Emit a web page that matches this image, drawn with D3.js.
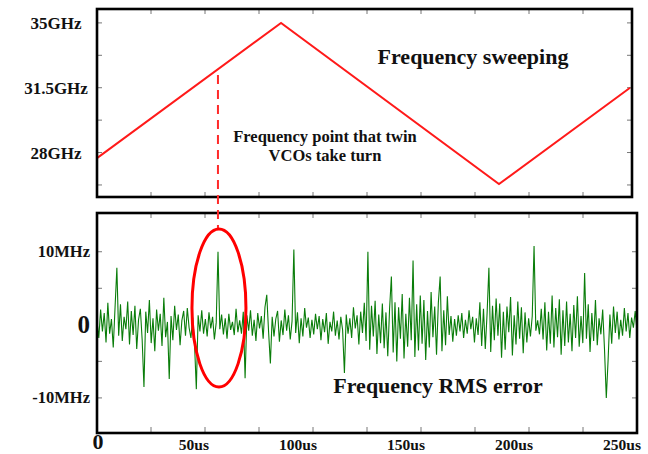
<!DOCTYPE html>
<html>

<head>
    <title>Frequency sweeping and RMS error</title>
    <script src="https://cdnjs.cloudflare.com/ajax/libs/d3/7.8.5/d3.min.js"></script>
    <style>
        body { margin: 0; background: #fff; }
        text { font-family: "Liberation Serif", "Times New Roman", serif; font-weight: bold; fill: #111; }
        .frame { fill: none; stroke: #000; stroke-width: 2.6; }
        .tick { stroke: #777; stroke-width: 1; }
    </style>
</head>

<body>
    <div id="chart"></div>
    <script>
        // sweep corner points (us, GHz)
        const sweepTimes = [0, 85.2, 186.1, 246.8];
        const sweepFreqs = [27.7, 35, 26.3, 31.5];
        const turnTime = 56; // where the twin VCOs swap

        // error samples in MHz, evenly spaced over 0..250us
        const errorValues = [
            0.5,-1.8,2.1,-0.9,1.6,-2.4,3.0,-1.2,0.8,-3.1,2.4,7.8,-1.5,2.8,-2.2,1.1,-0.6,3.2,-2.7,1.9,
            -1.4,2.6,-3.3,0.7,2.2,-2.0,-8.5,1.8,-1.1,3.4,-2.5,0.9,-3.6,2.1,-0.8,1.5,-2.9,3.7,-1.7,0.4,
            -7.4,1.2,-2.1,2.6,-0.7,1.4,-2.8,0.6,1.9,-1.5,2.3,-0.4,-1.8,1.0,-2.6,-8.8,1.3,-0.9,2.0,-1.2,
            0.8,-1.6,1.7,-0.5,1.1,-2.0,0.3,10.0,-0.6,1.4,-1.3,0.9,-1.9,1.5,-0.7,0.4,-1.4,2.2,-1.0,0.6,
            -1.2,1.8,-7.3,1.3,-0.8,2.0,-1.5,0.7,-2.2,1.6,-0.5,1.2,-1.9,2.4,4.1,-0.9,-5.3,1.1,-1.6,0.8,
            1.9,-2.3,0.6,-1.4,2.1,-0.8,1.3,-2.0,0.5,10.3,-1.1,1.7,-2.5,0.9,-1.6,2.3,-0.4,1.0,-1.8,0.7,
            -1.3,1.5,-0.6,1.2,-2.1,0.8,-1.0,1.6,-2.6,0.4,-0.9,1.8,-1.5,0.6,-2.0,1.1,-0.7,-6.6,1.4,-1.2,
            0.9,-1.8,2.4,-0.5,1.3,-2.7,1.8,-1.1,3.0,-2.2,10.0,-3.4,2.6,-1.6,3.3,-4.0,1.4,-2.5,2.9,-3.2,
            1.7,-4.3,2.2,6.6,-3.8,3.1,-5.0,2.4,-1.9,4.2,-4.6,1.5,-3.0,3.7,-2.1,8.8,-4.4,2.8,-3.5,4.0,
            -2.6,3.4,-4.8,1.9,-3.1,4.5,-1.7,2.5,-4.1,3.0,6.6,-3.6,2.0,-2.8,3.9,-1.4,1.2,-2.3,0.8,-1.5,
            1.3,-0.9,1.6,-1.8,0.7,-1.2,2.0,-0.6,1.1,-2.4,0.9,-1.4,3.1,-2.9,2.2,-3.3,1.6,7.8,-3.7,2.6,
            -2.1,3.6,-1.5,2.9,-4.5,1.8,-3.4,2.5,-1.0,3.8,-4.2,1.3,-2.7,3.2,-1.9,2.4,-3.9,1.7,-2.4,0.9,
            -1.6,1.2,10.8,-0.8,0.6,-1.3,2.2,-2.0,3.1,-3.5,1.8,-2.6,4.0,-3.1,2.3,-1.7,3.5,-4.1,2.0,-2.9,
            3.2,-2.4,1.5,-3.6,2.7,-1.8,3.9,-3.0,1.2,-2.5,7.1,-1.9,2.8,-3.7,1.6,-2.2,3.4,-2.8,0.9,-1.3,
            2.1,-3.3,-10.0,-4.8,1.4,-2.6,2.5,-1.1,1.8,-2.0,0.7,-1.5,2.3,-0.9,1.6,-1.8,1.0,-0.4,1.9,-0.8
        ];

        const freqTicks = [35, 31.5, 28];
        const freqTickLabels = ["35GHz", "31.5GHz", "28GHz"];
        const freqMinor = [33.25, 29.75, 26.25];
        const errTicks = [10, 0, -10];
        const errTickLabels = ["10MHz", "0", "-10MHz"];
        const errMinor = [10, 5, -5, -10];
        const timeTicks = [0, 50, 100, 150, 200, 250];
        const timeTickLabels = ["0", "50us", "100us", "150us", "200us", "250us"];
        const timeMinor = [25, 50, 75, 100, 125, 150, 175, 200, 225];

        const svg = d3.select("#chart")
            .append("svg")
            .attr("width", 648)
            .attr("height", 454);

        const x = d3.scaleLinear().domain([0, 250]).range([97, 637]);
        const yTop = d3.scaleLinear().domain([25.6, 35.75]).range([197, 9]);
        const yBot = d3.scaleLinear().domain([-14.8, 15.3]).range([433, 213]);

        const topRight = 632;

        // ---- top panel: frequency sweep ----
        const topG = svg.append("g");

        topG.selectAll(".ty").data(freqMinor.concat(freqTicks)).enter()
            .append("g").each(function (v) {
                const g = d3.select(this);
                g.append("line").attr("class", "tick")
                    .attr("x1", x(0)).attr("x2", x(0) + 5)
                    .attr("y1", yTop(v)).attr("y2", yTop(v));
                g.append("line").attr("class", "tick")
                    .attr("x1", topRight - 5).attr("x2", topRight)
                    .attr("y1", yTop(v)).attr("y2", yTop(v));
            });
        topG.selectAll(".tx").data(timeMinor).enter()
            .append("g").each(function (t) {
                const g = d3.select(this);
                g.append("line").attr("class", "tick")
                    .attr("x1", x(t)).attr("x2", x(t))
                    .attr("y1", yTop.range()[1]).attr("y2", yTop.range()[1] + 5);
                g.append("line").attr("class", "tick")
                    .attr("x1", x(t)).attr("x2", x(t))
                    .attr("y1", yTop.range()[0] - 5).attr("y2", yTop.range()[0]);
            });

        topG.append("path")
            .datum(d3.zip(sweepTimes, sweepFreqs))
            .attr("fill", "none")
            .attr("stroke", "#ff1a1a")
            .attr("stroke-width", 2)
            .attr("d", d3.line().x(d => x(d[0])).y(d => yTop(d[1])));

        topG.append("rect").attr("class", "frame")
            .attr("x", x(0)).attr("y", yTop.range()[1])
            .attr("width", topRight - x(0))
            .attr("height", yTop.range()[0] - yTop.range()[1]);

        topG.selectAll(".fl").data(freqTicks).enter()
            .append("text")
            .attr("x", 56)
            .attr("y", d => yTop(d) + 6)
            .attr("text-anchor", "middle")
            .style("font-size", "17px")
            .text((d, i) => freqTickLabels[i]);

        topG.append("text")
            .attr("x", 473).attr("y", 64)
            .attr("text-anchor", "middle")
            .style("font-size", "22px")
            .text("Frequency sweeping");

        topG.append("text")
            .attr("x", 325).attr("y", 142)
            .attr("text-anchor", "middle")
            .style("font-size", "16.5px")
            .text("Frequency point that twin");
        topG.append("text")
            .attr("x", 325).attr("y", 161)
            .attr("text-anchor", "middle")
            .style("font-size", "16.5px")
            .text("VCOs take turn");

        // ---- bottom panel: RMS error ----
        const botG = svg.append("g");

        botG.selectAll(".by").data(errMinor).enter()
            .append("g").each(function (v) {
                const g = d3.select(this);
                g.append("line").attr("class", "tick")
                    .attr("x1", x(0)).attr("x2", x(0) + 5)
                    .attr("y1", yBot(v)).attr("y2", yBot(v));
                g.append("line").attr("class", "tick")
                    .attr("x1", x(250) - 5).attr("x2", x(250))
                    .attr("y1", yBot(v)).attr("y2", yBot(v));
            });
        botG.selectAll(".bx").data(timeMinor).enter()
            .append("g").each(function (t) {
                const g = d3.select(this);
                g.append("line").attr("class", "tick")
                    .attr("x1", x(t)).attr("x2", x(t))
                    .attr("y1", yBot.range()[1]).attr("y2", yBot.range()[1] + 5);
                g.append("line").attr("class", "tick")
                    .attr("x1", x(t)).attr("x2", x(t))
                    .attr("y1", yBot.range()[0] - 6).attr("y2", yBot.range()[0]);
            });

        const step = 250 / (errorValues.length - 1);
        botG.append("path")
            .datum(errorValues)
            .attr("fill", "none")
            .attr("stroke", "#0a7d0a")
            .attr("stroke-width", 1.1)
            .attr("d", d3.line().x((d, i) => x(i * step)).y(d => yBot(d)));

        botG.append("rect").attr("class", "frame")
            .attr("x", x(0)).attr("y", yBot.range()[1])
            .attr("width", x(250) - x(0))
            .attr("height", yBot.range()[0] - yBot.range()[1]);

        botG.selectAll(".el").data(errTicks).enter()
            .append("text")
            .attr("x", 90)
            .attr("y", d => yBot(d) + (d === 0 ? 8 : 5))
            .attr("text-anchor", "end")
            .style("font-size", d => d === 0 ? "25px" : "16.5px")
            .text((d, i) => errTickLabels[i]);

        botG.selectAll(".tl").data(timeTicks).enter()
            .append("text")
            .attr("x", d => d === 0 ? x(d) + 1 : x(d) + 4)
            .attr("y", d => d === 0 ? 449 : 450)
            .attr("text-anchor", d => d === 0 ? "middle" : "end")
            .style("font-size", d => d === 0 ? "22px" : "15.5px")
            .text((d, i) => timeTickLabels[i]);

        botG.append("text")
            .attr("x", 438).attr("y", 393)
            .attr("text-anchor", "middle")
            .style("font-size", "22px")
            .text("Frequency RMS error");

        // ---- turn marker: dashed drop line and ellipse ----
        const ell = { cy: 308, rx: 27, ry: 79 };
        svg.append("line")
            .attr("x1", x(turnTime)).attr("x2", x(turnTime))
            .attr("y1", 75).attr("y2", ell.cy - ell.ry)
            .attr("stroke", "#ff2a2a")
            .attr("stroke-width", 2)
            .attr("stroke-dasharray", "9,6");

        svg.append("ellipse")
            .attr("cx", x(turnTime) + 1)
            .attr("cy", ell.cy)
            .attr("rx", ell.rx)
            .attr("ry", ell.ry)
            .attr("fill", "none")
            .attr("stroke", "#ff0000")
            .attr("stroke-width", 3);
    </script>
</body>

</html>
